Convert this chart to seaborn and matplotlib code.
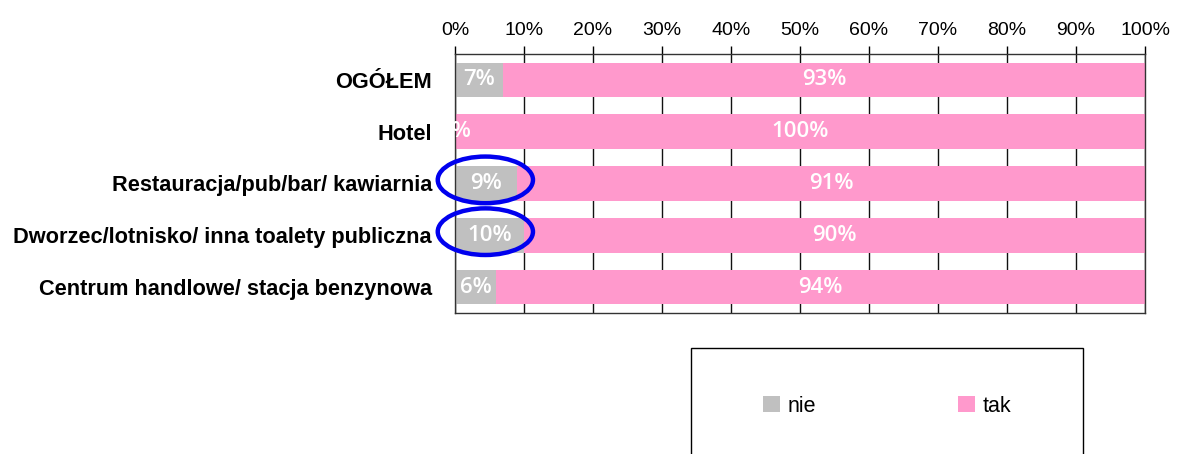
import matplotlib
matplotlib.use("Agg")
import matplotlib.pyplot as plt
import seaborn as sns
import pandas as pd
from matplotlib.patches import Ellipse, Rectangle, Patch
from matplotlib.ticker import FuncFormatter, MultipleLocator

categories = ["OGÓŁEM", "Hotel", "Restauracja/pub/bar/ kawiarnia",
              "Dworzec/lotnisko/ inna toalety publiczna",
              "Centrum handlowe/ stacja benzynowa"]
nie = [7, 0, 9, 10, 6]
tak = [93, 100, 91, 90, 94]
highlighted = [2, 3]

sns.set_theme(style="white")
plt.rcParams["font.family"] = ["Liberation Sans", "DejaVu Sans"]

GRAY = "#C0C0C0"
PINK = "#FF99CC"

df = pd.DataFrame({"cat": categories, "nie": nie, "tak": tak})
df["total"] = df["nie"] + df["tak"]

fig = plt.figure(figsize=(11.78, 4.54), dpi=100)
ax = fig.add_axes([455/1178, 1-313/454, 690/1178, 259/454])

sns.barplot(data=df, y="cat", x="total", order=categories, color=PINK,
            orient="h", width=0.67, ax=ax, saturation=1, linewidth=0)
sns.barplot(data=df, y="cat", x="nie", order=categories, color=GRAY,
            orient="h", width=0.67, ax=ax, saturation=1, linewidth=0)

ax.set_xlim(0, 100)
ax.set_ylim(4.5, -0.5)
ax.set_xlabel("")
ax.set_ylabel("")
ax.xaxis.set_major_locator(MultipleLocator(10))
ax.xaxis.set_major_formatter(FuncFormatter(lambda v, p: f"{int(round(v))}%"))
ax.xaxis.tick_top()
ax.tick_params(axis="x", which="major", top=True, bottom=False, direction="out",
               length=6, width=1, color="black", labelsize=14, pad=5,
               labelcolor="black")
ax.tick_params(axis="y", length=0, pad=16.5, labelsize=15.7, labelcolor="black")
for lbl in ax.get_yticklabels():
    lbl.set_fontweight("bold")
ax.grid(axis="x", color="#111111", linewidth=1)
ax.grid(axis="y", visible=False)
ax.set_axisbelow(True)
for s in ax.spines.values():
    s.set_visible(True)
    s.set_color("#333333")
    s.set_linewidth(1)

# value labels
for i, (n, t) in enumerate(zip(nie, tak)):
    ax.text(n / 2, i, f"{n}%", ha="center", va="center", color="white",
            fontsize=16, fontweight="semibold", family=["Open Sans"],
            clip_on=False)
    ax.text(n + t / 2, i, f"{t}%", ha="center", va="center", color="white",
            fontsize=16, fontweight="semibold", family=["Open Sans"])

# blue ellipses around highlighted values (hand-drawn style annotation)
for i in highlighted:
    e = Ellipse((4.4, i - 0.07), width=13.8, height=0.9,
                fill=False, edgecolor="#0000EE", linewidth=3.2, clip_on=False,
                zorder=5)
    ax.add_patch(e)

# legend box
fig.patches.append(Rectangle((691/1178, -0.1), 392/1178, (454-348)/454 + 0.1,
                             transform=fig.transFigure, fill=False,
                             edgecolor="black", linewidth=1))
handles = [Patch(facecolor=GRAY, edgecolor="none", label="nie"),
           Patch(facecolor=PINK, edgecolor="none", label="tak")]
fig.legend(handles=handles, loc="center left",
           bbox_to_anchor=(763/1178, 1-406/454), ncol=2, frameon=False,
           fontsize=15.5, handlelength=0.8, handleheight=0.8,
           handletextpad=0.33, columnspacing=6.6, borderpad=0,
           borderaxespad=0, labelcolor="black")

fig.savefig("out.png", dpi=100)
